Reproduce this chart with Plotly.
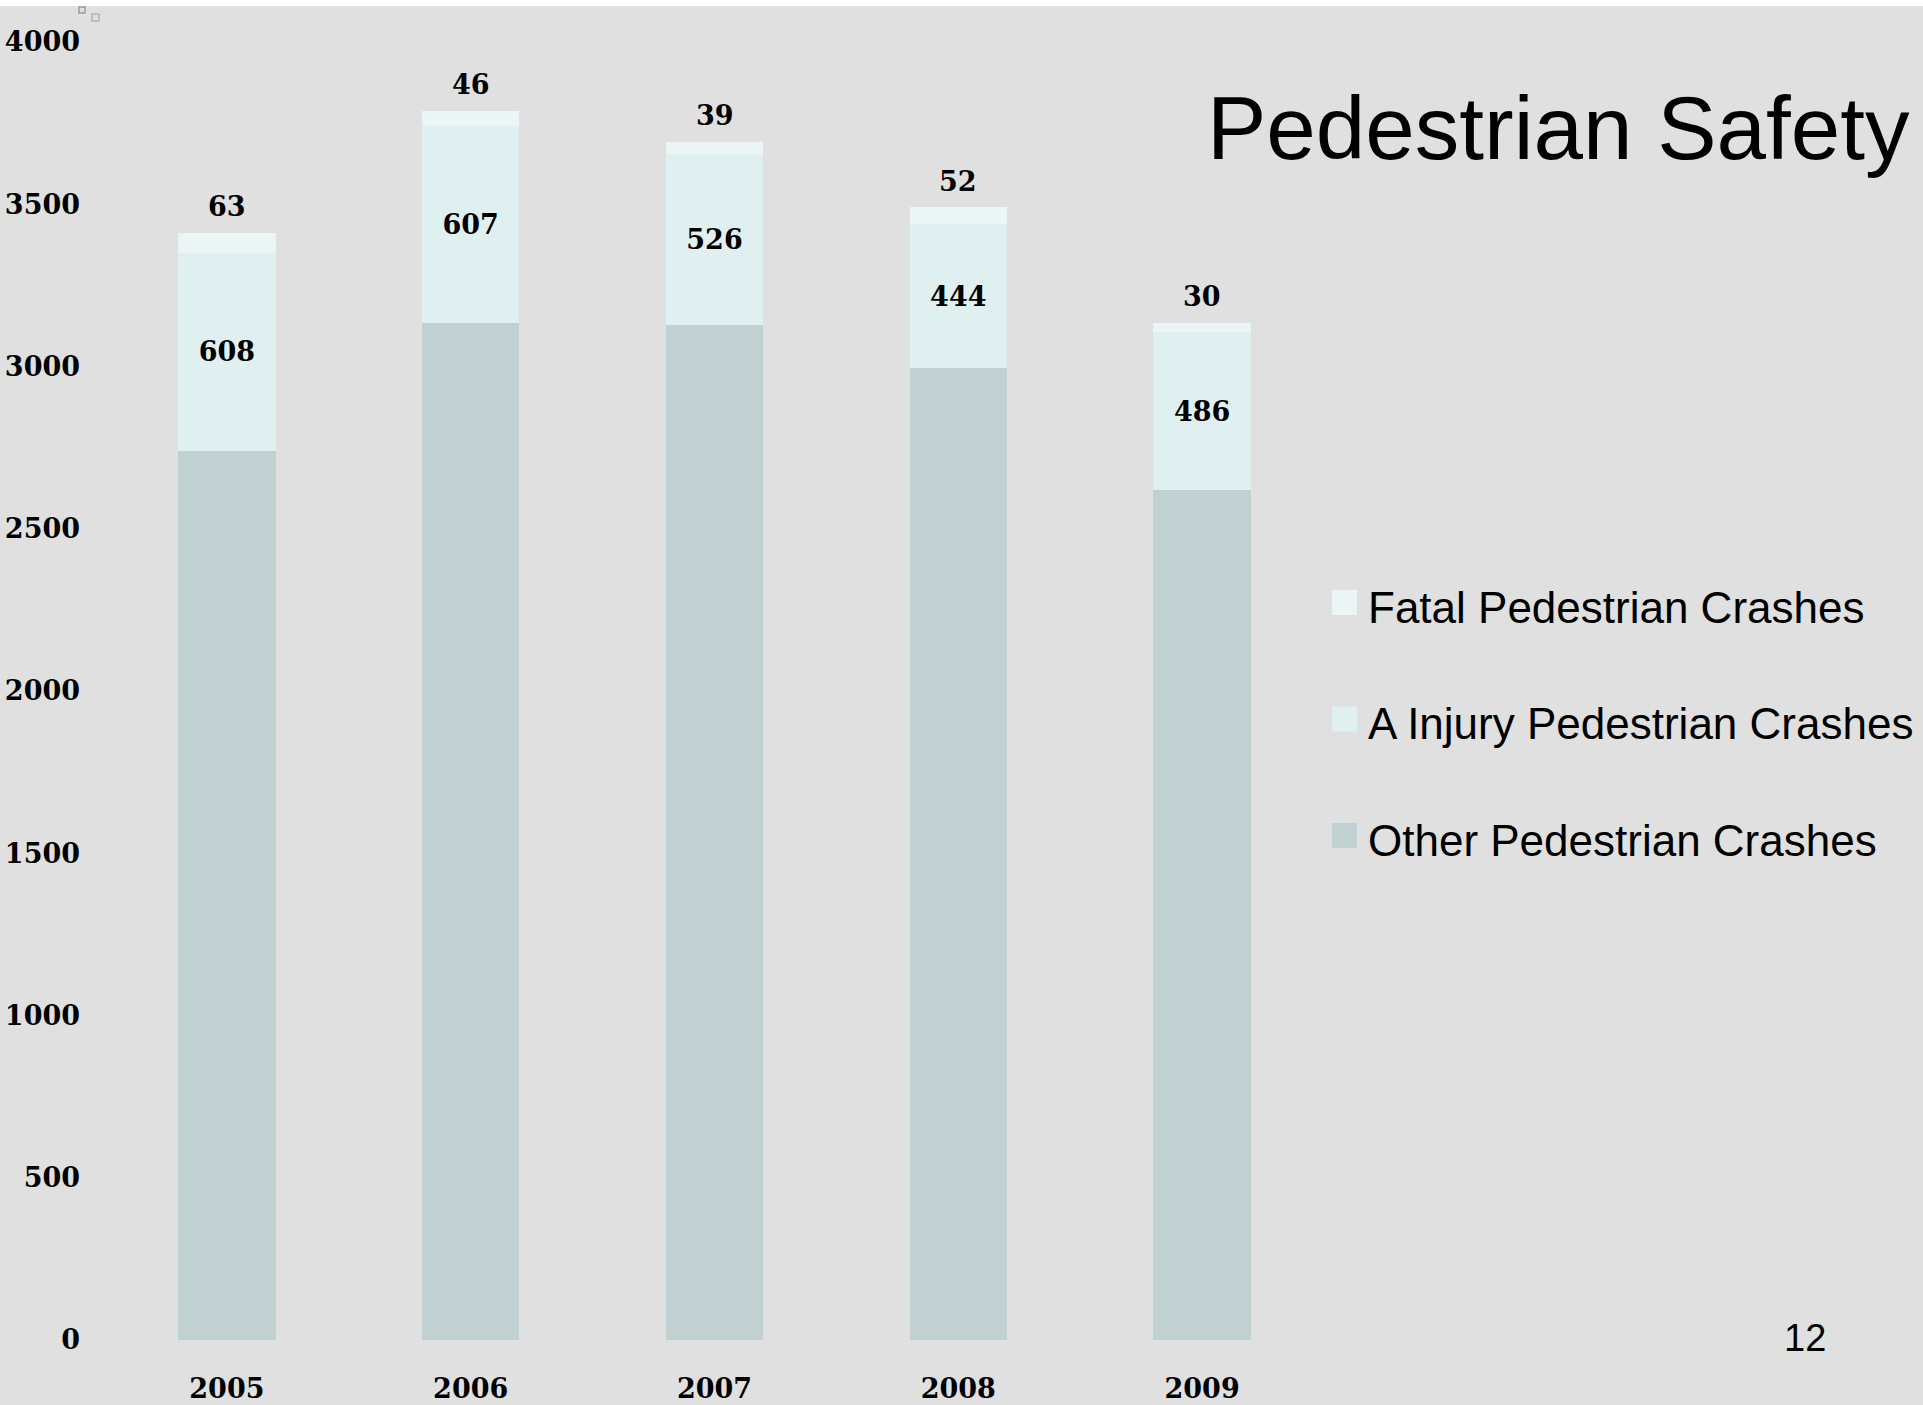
import plotly.graph_objects as go

# ---------------- data ----------------
years = ["2005", "2006", "2007", "2008", "2009"]
other_crashes = [2741, 3135, 3128, 2994, 2619]
injury_crashes = [608, 607, 526, 444, 486]
fatal_crashes = [63, 46, 39, 52, 30]
y_ticks = [0, 500, 1000, 1500, 2000, 2500, 3000, 3500, 4000]
series_names = ["Fatal Pedestrian Crashes", "A Injury Pedestrian Crashes", "Other Pedestrian Crashes"]

# ---------------- style ----------------
W, H = 1923, 1405
L, R, T, B = 105, 1324, 42, 1340
BG = "#E0E0E0"
C_OTHER = "#C1D0D1"
C_INJ = "#E0F0F0"
C_FATAL = "#EBF5F6"
SERIF = "DejaVu Serif"
SANS = "Liberation Sans, Arial, sans-serif"


def px(x):
    return (x - L) / (R - L)


def py(y):
    return (B - y) / (B - T)


fig = go.Figure()
fig.add_trace(go.Bar(x=years, y=other_crashes, name=series_names[2], marker=dict(color=C_OTHER, line=dict(width=0)),
                     showlegend=False))
fig.add_trace(go.Bar(x=years, y=injury_crashes, name=series_names[1], marker=dict(color=C_INJ, line=dict(width=0)),
                     text=injury_crashes, texttemplate="%{text}", textposition="inside",
                     insidetextanchor="middle", textangle=0, constraintext="none",
                     textfont=dict(family=SERIF, size=27, color="black", weight="bold"),
                     showlegend=False))
fig.add_trace(go.Bar(x=years, y=fatal_crashes, name=series_names[0], marker=dict(color=C_FATAL, line=dict(width=0)),
                     showlegend=False))

annotations = []
# fatal labels above each stack (x given as category index)
for k, (o, i, f) in enumerate(zip(other_crashes, injury_crashes, fatal_crashes)):
    annotations.append(dict(x=k, y=o + i + f, xref="x", yref="y", text=str(f), showarrow=False,
                            yanchor="middle", yshift=26,
                            font=dict(family=SERIF, size=27, color="black", weight="bold")))

# title
annotations.append(dict(x=px(1205), y=py(128), xref="paper", yref="paper", text="Pedestrian Safety",
                        showarrow=False, xanchor="left", yanchor="middle",
                        font=dict(family=SANS, size=89, color="black")))

# custom legend
shapes = []
leg_colors = [C_FATAL, C_INJ, C_OTHER]
for k, (nm, col) in enumerate(zip(series_names, leg_colors)):
    top = 590 + k * 116.5
    shapes.append(dict(type="rect", xref="paper", yref="paper", x0=px(1332), x1=px(1357),
                       y0=py(top + 25), y1=py(top), fillcolor=col, line=dict(width=0), layer="above"))
    annotations.append(dict(x=px(1366), y=py(top + 17.5), xref="paper", yref="paper", text=nm,
                            showarrow=False, xanchor="left", yanchor="middle",
                            font=dict(family=SANS, size=44, color="black")))

# page number
annotations.append(dict(x=px(1804.5), y=py(1337.5), xref="paper", yref="paper", text="12",
                        showarrow=False, xanchor="center", yanchor="middle",
                        font=dict(family=SANS, size=38, color="black")))

# white strip at top and small handle squares
shapes.append(dict(type="rect", xref="paper", yref="paper", x0=px(0), x1=px(W), y0=py(6), y1=py(-2),
                   fillcolor="white", line=dict(width=0), layer="above"))
shapes.append(dict(type="rect", xref="paper", yref="paper", x0=px(79), x1=px(85), y0=py(13), y1=py(7),
                   fillcolor="rgba(0,0,0,0)", line=dict(width=1.5, color="#9A9A9A"), layer="above"))
shapes.append(dict(type="rect", xref="paper", yref="paper", x0=px(92), x1=px(99), y0=py(21), y1=py(14),
                   fillcolor="rgba(0,0,0,0)", line=dict(width=1.5, color="#A8B8BA"), layer="above"))

fig.update_layout(
    width=W, height=H, autosize=False,
    margin=dict(l=L, r=W - R, t=T, b=H - B, pad=0),
    paper_bgcolor=BG, plot_bgcolor=BG,
    barmode="stack", bargap=0.6,
    showlegend=False,
    annotations=annotations, shapes=shapes,
    xaxis=dict(type="category", range=[-0.5, 4.5], showgrid=False, zeroline=False, showline=False,
               ticks="", ticklabelstandoff=30, automargin=False,
               tickfont=dict(family=SERIF, size=27, color="black", weight="bold")),
    yaxis=dict(range=[0, 4000], tickvals=y_ticks, ticktext=[str(v) for v in y_ticks],
               showgrid=False, zeroline=False, showline=False, ticks="", ticklabelstandoff=24,
               automargin=False,
               tickfont=dict(family=SERIF, size=27, color="black", weight="bold")),
)

fig.write_html("out.html", config={"displayModeBar": False},
               post_script="document.body.style.margin='0';document.body.style.overflow='hidden';")
